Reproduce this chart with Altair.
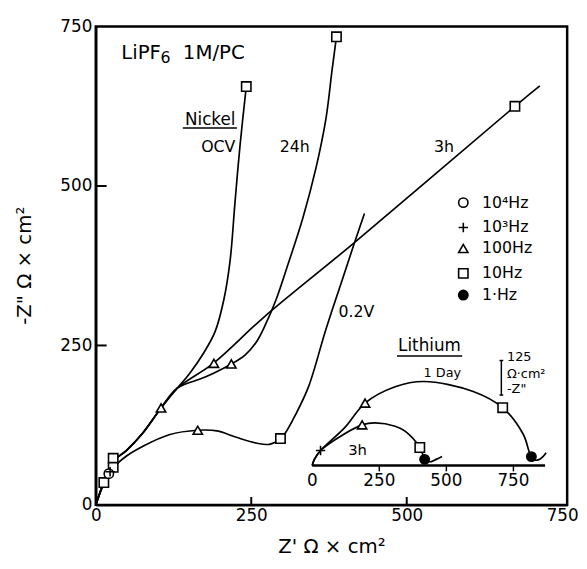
import altair as alt
import pandas as pd

FONT = "DejaVu Sans"

# ---------------- Nickel electrode (main axes), Z' / -Z'' in ohm*cm2
common_x = [0, 13, 28, 50, 75, 105, 131]
common_y = [0, 35, 68, 86, 112, 152, 183]
ocv_x = [150, 174, 192, 206, 216, 224, 232, 242]
ocv_y = [205, 239, 272, 322, 383, 476, 564, 656]
h24_x = [175, 218, 240, 258, 273, 290, 306, 333, 354, 370, 380, 387]
h24_y = [200, 221, 235, 255, 283, 322, 368, 450, 528, 605, 682, 734]
h3_x = [189, 271, 413, 674, 714]
h3_y = [222, 295, 409, 625, 657]
v02_x = [0, 13, 28, 50, 76, 118, 164, 195, 226, 258, 279, 297, 305, 321, 342, 370, 396, 416, 432]
v02_y = [0, 35, 58, 77, 92, 110, 117, 116, 106, 97, 95, 104, 113, 141, 185, 275, 352, 411, 457]

ni_mark_x = [242, 387, 674, 297, 28, 28, 13, 105, 190, 218, 164, 21, 23]
ni_mark_y = [656, 734, 625, 104, 73, 59, 35, 152, 222, 221, 117, 49, 52]
ni_mark_kind = ["10Hz", "10Hz", "10Hz", "10Hz", "10Hz", "10Hz", "10Hz",
                "100Hz", "100Hz", "100Hz", "100Hz", "1e4Hz", "1e3Hz"]

# legend (drawn inside the plot)
kinds = ["1e4Hz", "1e3Hz", "100Hz", "10Hz", "1Hz"]
kind_labels = ["10\u2074Hz", "10\u00b3Hz", "100Hz", "10Hz", "1\u00b7Hz"]
legend_y = [474, 435, 402, 363, 329]
legend_mark_x = 591
legend_text_x = 621

# ---------------- Lithium electrode (inset axes)
li_day_x = [0, 8, 31, 121, 197, 309, 416, 600, 710, 787, 812, 828, 845, 860, 872]
li_day_y = [0, 22, 54, 137, 226, 285, 304, 268, 209, 112, 42, 20, 21, 32, 46]
li_3h_x = [0, 8, 31, 88, 186, 235, 309, 346, 401, 416, 428, 444, 462, 484]
li_3h_y = [0, 22, 54, 95, 147, 154, 142, 124, 65, 30, 15, 14, 22, 32]

li_mark_x = [31, 197, 186, 710, 401, 817, 419]
li_mark_y = [54, 226, 147, 209, 65, 32, 22]
li_mark_kind = ["1e3Hz", "100Hz", "100Hz", "10Hz", "10Hz", "1Hz", "1Hz"]

inset_ticks = [0, 250, 500, 750]
inset_small_ticks = [250, 500, 750]
inset_base_end = 868

main_ticks = [0, 250, 500, 750]
inner_ticks = [250, 500]

shapes = ["circle", "M-1,0L1,0M0,-1L0,1", "triangle-up", "square", "circle"]
fills = ["white", "white", "white", "white", "black"]

# ---------------- data frames
def line_df(name, xs, ys):
    return pd.DataFrame({"series": name, "order": list(range(len(xs))), "x": xs, "y": ys})

ni_lines = pd.concat([
    line_df("OCV", common_x + ocv_x, common_y + ocv_y),
    line_df("24h", common_x + h24_x, common_y + h24_y),
    line_df("3h", common_x + h3_x, common_y + h3_y),
    line_df("0.2V", v02_x, v02_y),
])
ni_marks = pd.DataFrame({"x": ni_mark_x, "y": ni_mark_y, "kind": ni_mark_kind})
leg_marks = pd.DataFrame({"x": [legend_mark_x] * 5, "y": legend_y, "kind": kinds})
leg_text = pd.DataFrame({"x": [legend_text_x] * 5, "y": legend_y, "text": kind_labels})

center_text = pd.DataFrame({
    "x": [184, 197, 320, 560, 419],
    "y": [603, 561, 561, 561, 302],
    "text": ["Nickel", "OCV", "24h", "3h", "0.2V"],
    "fs": [17, 16, 16, 16, 16],
})
left_text = pd.DataFrame({
    "x": [41, 104, 140],
    "y": [708, 700, 708],
    "text": ["LiPF", "6", "1M/PC"],
    "fs": [20, 16, 20],
})
ni_underline = pd.DataFrame({"x": [140], "x2": [227], "y": [591]})

li_lines = pd.concat([
    line_df("1 Day", li_day_x, li_day_y),
    line_df("3h", li_3h_x, li_3h_y),
])
li_marks = pd.DataFrame({"x": li_mark_x, "y": li_mark_y, "kind": li_mark_kind})
li_base = pd.DataFrame({"x": [0], "x2": [inset_base_end], "y": [0]})
li_ticks = pd.DataFrame({"x": inset_small_ticks})
li_ticklab = pd.DataFrame({"x": inset_ticks, "y": [0] * 4, "text": [str(t) for t in inset_ticks]})
li_text = pd.DataFrame({
    "x": [437, 485, 169],
    "y": [432, 336, 57],
    "text": ["Lithium", "1 Day", "3h"],
    "fs": [17, 13, 15],
})
li_underline = pd.DataFrame({"x": [316], "x2": [559], "y": [396]})
bar_v = pd.DataFrame({"x": [705], "y": [255], "y2": [380]})
bar_caps = pd.DataFrame({"x": [698, 698], "x2": [712, 712], "y": [255, 380]})
bar_text = pd.DataFrame({
    "x": [726, 726, 726],
    "y": [393, 332, 276],
    "text": ["125", "\u03a9\u00b7cm\u00b2", "-Z\""],
})

# ---------------- encodings
MX = alt.X("x:Q", scale=alt.Scale(domain=[0, 758], nice=False, zero=False),
           axis=alt.Axis(values=main_ticks, ticks=False, grid=False, domainWidth=2.5,
                         domainColor="black", labelFont=FONT, labelFontSize=17,
                         labelColor="black", labelPadding=3, labelFlush=False,
                         title="Z'  \u03a9 \u00d7 cm\u00b2", titleFont=FONT, titleFontSize=20,
                         titleFontWeight="normal", titleColor="black", titleY=42,
                         titleBaseline="middle"))
MY = alt.Y("y:Q", scale=alt.Scale(domain=[0, 750], nice=False, zero=False),
           axis=alt.Axis(values=main_ticks, ticks=False, grid=False, domainWidth=2.5,
                         domainColor="black", labelFont=FONT, labelFontSize=17,
                         labelColor="black", labelPadding=4, labelFlush=False,
                         title="-Z\"  \u03a9 \u00d7 cm\u00b2", titleFont=FONT, titleFontSize=20,
                         titleFontWeight="normal", titleColor="black", titleX=-72,
                         titleY=242, titleAngle=270, titleAlign="center",
                         titleBaseline="middle"))
IX = alt.X("x:Q", scale=alt.Scale(domain=[0, 750], range=[219.5, 423.5], nice=False, zero=False), axis=None)
IY = alt.Y("y:Q", scale=alt.Scale(domain=[0, 300], range=[445, 361], nice=False, zero=False), axis=None)

SHAPE = alt.Shape("kind:N", scale=alt.Scale(domain=kinds, range=shapes), legend=None)
FILL = alt.Fill("kind:N", scale=alt.Scale(domain=kinds, range=fills), legend=None)

def points(df, X, Y):
    return alt.Chart(df).mark_point(filled=True, stroke="black", strokeWidth=1.6, size=90, opacity=1).encode(
        x=X, y=Y, shape=SHAPE, fill=FILL)

def curves(df, X, Y):
    return alt.Chart(df).mark_line(color="black", strokeWidth=1.7, interpolate="catmull-rom").encode(
        x=X, y=Y, detail="series:N", order="order:Q")

# ---------------- main layer
xtick_df = pd.DataFrame({"x": inner_ticks})
ytick_df = pd.DataFrame({"y": inner_ticks})
main = alt.layer(
    curves(ni_lines, MX, MY),
    alt.Chart(xtick_df).mark_rule(color="black", strokeWidth=2).encode(
        x=MX, y=alt.value(485), y2=alt.value(477)),
    alt.Chart(ytick_df).mark_rule(color="black", strokeWidth=2).encode(
        y=MY, x=alt.value(0), x2=alt.value(11)),
    alt.Chart(ni_underline).mark_rule(color="black", strokeWidth=1.5).encode(
        x=MX, x2="x2:Q", y=MY),
    points(ni_marks, MX, MY),
    points(leg_marks, MX, MY),
    alt.Chart(leg_text).mark_text(font=FONT, fontSize=16, align="left", baseline="middle", color="black").encode(
        x=MX, y=MY, text="text:N"),
    alt.Chart(center_text).mark_text(font=FONT, align="center", baseline="middle", color="black").encode(
        x=MX, y=MY, text="text:N", size=alt.Size("fs:Q", scale=None)),
    alt.Chart(left_text).mark_text(font=FONT, align="left", baseline="middle", color="black").encode(
        x=MX, y=MY, text="text:N", size=alt.Size("fs:Q", scale=None)),
)

# ---------------- inset layer
inset = alt.layer(
    alt.Chart(li_base).mark_rule(color="black", strokeWidth=2.5).encode(x=IX, x2="x2:Q", y=IY),
    alt.Chart(li_ticks).mark_rule(color="black", strokeWidth=1.5).encode(
        x=IX, y=alt.value(446), y2=alt.value(451)),
    curves(li_lines, IX, IY),
    points(li_marks, IX, IY),
    alt.Chart(li_ticklab).mark_text(font=FONT, fontSize=17, align="center", baseline="middle", dy=16,
                                    color="black").encode(x=IX, y=IY, text="text:N"),
    alt.Chart(li_text).mark_text(font=FONT, align="center", baseline="middle", color="black").encode(
        x=IX, y=IY, text="text:N", size=alt.Size("fs:Q", scale=None)),
    alt.Chart(li_underline).mark_rule(color="black", strokeWidth=1.5).encode(x=IX, x2="x2:Q", y=IY),
    alt.Chart(bar_v).mark_rule(color="black", strokeWidth=1.5).encode(x=IX, y=IY, y2="y2:Q"),
    alt.Chart(bar_caps).mark_rule(color="black", strokeWidth=1.5).encode(x=IX, x2="x2:Q", y=IY),
    alt.Chart(bar_text).mark_text(font=FONT, fontSize=13, align="left", baseline="middle", color="black").encode(
        x=IX, y=IY, text="text:N"),
)

chart = alt.layer(main, inset).resolve_scale(x="independent", y="independent").properties(
    width=478, height=485,
    padding={"left": 89, "top": 15, "right": 12, "bottom": 50},
    autosize=alt.AutoSizeParams(type="none"),
    background="white",
).configure_view(stroke="black", strokeWidth=2.5)

chart.save("out.html", embed_options={"renderer": "svg", "actions": False})
